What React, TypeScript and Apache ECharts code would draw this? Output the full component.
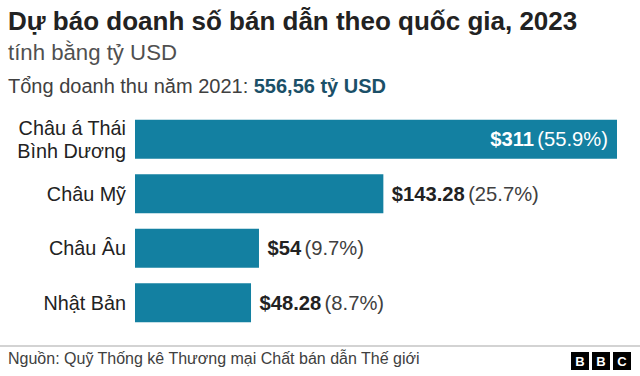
import React, { useEffect, useRef } from "react";
import * as echarts from "echarts";

const categories = ["Châu á Thái\nBình Dương", "Châu Mỹ", "Châu Âu", "Nhật Bản"];
const values = [311, 143.28, 54, 48.28];
const shares = ["55.9%", "25.7%", "9.7%", "8.7%"];

const TITLE = "Dự báo doanh số bán dẫn theo quốc gia, 2023";
const SUBTITLE = "tính bằng tỷ USD";
const TOTAL_LABEL = "Tổng doanh thu năm 2021: ";
const TOTAL_VALUE = "556,56 tỷ USD";
const SOURCE = "Nguồn: Quỹ Thống kê Thương mại Chất bán dẫn Thế giới";

const FONT = "'Liberation Sans', Arial, Helvetica, sans-serif";
const BAR = "#1380A1";
const X_MIN = -35;
const X_MAX = 311;

export default function App() {
  const ref = useRef<HTMLDivElement>(null);
  useEffect(() => {
    if (!ref.current) return;
    const chart = echarts.init(ref.current, null, { renderer: "svg" });
    const maxV = Math.max(...values);
    const logoLetters = ["B", "B", "C"];
    const option: any = {
      animation: false,
      backgroundColor: "#ffffff",
      textStyle: { fontFamily: FONT },
      grid: { left: 135, right: 23, top: 112, bottom: 46 },
      xAxis: { type: "value", min: X_MIN, max: X_MAX, show: false },
      yAxis: {
        type: "category",
        data: categories,
        inverse: true,
        axisLine: { show: false },
        axisTick: { show: false },
        splitLine: { show: false },
        axisLabel: {
          fontFamily: FONT,
          fontSize: 19.8,
          color: "#222222",
          margin: 9,
          lineHeight: 23,
          align: "right",
        },
      },
      series: [
        {
          type: "custom",
          encode: { x: 0, y: 1 },
          data: values.map((v, i) => [v, i]),
          renderItem: (params: any, api: any) => {
            const i = api.value(1);
            const v = api.value(0);
            const start = api.coord([X_MIN, i]);
            const end = api.coord([v, i]);
            const h = api.size([0, 1])[1] * 0.716;
            const inside = v === maxV;
            const val = "$" + String(v);
            return {
              type: "rect",
              shape: { x: start[0], y: start[1] - h / 2, width: end[0] - start[0], height: h },
              style: { fill: BAR },
              textContent: {
                style: {
                  text: "{b|" + val + "} {n|(" + shares[i] + ")}",
                  rich: {
                    b: {
                      fontFamily: FONT,
                      fontWeight: "bold",
                      fontSize: 20.2,
                      fill: inside ? "#ffffff" : "#222222",
                    },
                    n: {
                      fontFamily: FONT,
                      fontSize: 20.2,
                      fill: inside ? "#ffffff" : "#404040",
                    },
                  },
                },
              },
              textConfig: {
                position: inside ? "insideRight" : "right",
                distance: inside ? 9 : 8.5,
              },
            };
          },
        },
      ],
      graphic: [
        {
          type: "text",
          x: 8,
          y: 20.5,
          style: {
            text: TITLE,
            font: "bold 26px " + FONT,
            fill: "#222222",
            verticalAlign: "middle",
          },
        },
        {
          type: "text",
          x: 8,
          y: 52,
          style: {
            text: SUBTITLE,
            font: "22.2px " + FONT,
            fill: "#505050",
            verticalAlign: "middle",
          },
        },
        {
          type: "text",
          x: 8,
          y: 85.7,
          style: {
            text: "{a|" + TOTAL_LABEL + "}{b|" + TOTAL_VALUE + "}",
            verticalAlign: "middle",
            rich: {
              a: { fontFamily: FONT, fontSize: 20, fill: "#404040" },
              b: { fontFamily: FONT, fontSize: 20, fontWeight: "bold", fill: "#1b5068" },
            },
          },
        },
        {
          type: "line",
          shape: { x1: 0, y1: 346, x2: 640, y2: 346 },
          style: { stroke: "#c4c4c4", lineWidth: 1.5 },
        },
        {
          type: "text",
          x: 8,
          y: 358.5,
          style: {
            text: SOURCE,
            font: "16px " + FONT,
            fill: "#404040",
            verticalAlign: "middle",
          },
        },
        ...logoLetters.flatMap((ch, k) => [
          {
            type: "rect",
            shape: { x: 571 + k * 21, y: 352, width: 18, height: 18 },
            style: { fill: "#000000" },
          },
          {
            type: "text",
            x: 571 + k * 21 + 9,
            y: 361.5,
            style: {
              text: ch,
              font: "bold 13px " + FONT,
              fill: "#ffffff",
              align: "center",
              verticalAlign: "middle",
            },
          },
        ]),
      ],
    };
    chart.setOption(option);
    return () => chart.dispose();
  }, []);
  return (
    <div
      ref={ref}
      style={{ position: "fixed", left: 0, top: 0, width: 640, height: 376, background: "#fff" }}
    />
  );
}
